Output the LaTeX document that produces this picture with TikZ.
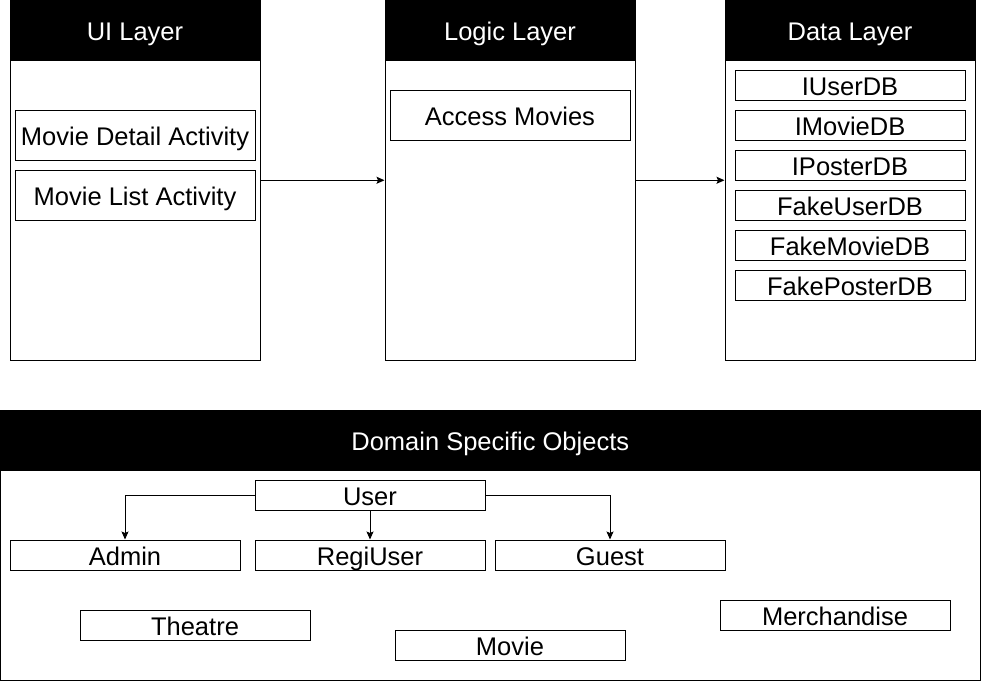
\documentclass[tikz,border=0pt]{standalone}
\usepackage{fontspec}
\setmainfont{Liberation Sans}
\usetikzlibrary{arrows.meta}
\begin{document}
\begin{tikzpicture}[x=1pt,y=-1pt,
  txt/.style={font=\fontsize{25.5}{30}\selectfont, text height=20pt, text depth=0pt},
  layer/.style={draw=black, line width=1pt, fill=white, inner sep=0pt},
  head/.style={draw=black, line width=1pt, fill=black, text=white, txt, inner sep=0pt},
  item/.style={draw=black, line width=1pt, fill=white, txt, inner sep=0pt},
  arr/.style={draw=black, line width=1pt, -{Stealth[length=8pt,width=7pt,inset=1.5pt]}}
]
\useasboundingbox (0,0) rectangle (981,681);
% layers
\node[layer, minimum width=250pt, minimum height=359.5pt] (ui) at (135,180.25) {};
\node[head, minimum width=250pt, minimum height=59.5pt, anchor=north] (uih) at (ui.north) {UI Layer};
\node[layer, minimum width=250pt, minimum height=359.5pt] (logic) at (510,180.25) {};
\node[head, minimum width=250pt, minimum height=59.5pt, anchor=north] (logich) at (logic.north) {Logic Layer};
\node[layer, minimum width=250pt, minimum height=359.5pt] (data) at (850,180.25) {};
\node[head, minimum width=250pt, minimum height=59.5pt, anchor=north] (datah) at (data.north) {Data Layer};
% UI items
\node[item, minimum width=240pt, minimum height=50pt] (mda) at (135,135) {Movie Detail Activity};
\node[item, minimum width=240pt, minimum height=50pt] (mla) at (135,195) {Movie List Activity};
% logic items
\node[item, minimum width=240pt, minimum height=50pt] (am) at (510,115) {Access Movies};
% data items
\node[item, minimum width=230pt, minimum height=30pt] (iu) at (850,85) {IUserDB};
\node[item, minimum width=230pt, minimum height=30pt] (im) at (850,125) {IMovieDB};
\node[item, minimum width=230pt, minimum height=30pt] (ip) at (850,165) {IPosterDB};
\node[item, minimum width=230pt, minimum height=30pt] (fu) at (850,205) {FakeUserDB};
\node[item, minimum width=230pt, minimum height=30pt] (fm) at (850,245) {FakeMovieDB};
\node[item, minimum width=230pt, minimum height=30pt] (fp) at (850,285) {FakePosterDB};
% arrows between layers
\draw[arr] (ui.east) -- (logic.west);
\draw[arr] (logic.east) -- (data.west);
% domain
\node[layer, minimum width=979.5pt, minimum height=270pt] (dom) at (490.25,545) {};
\node[head, minimum width=979.5pt, minimum height=60pt, anchor=north] (domh) at (dom.north) {Domain Specific Objects};
\node[item, minimum width=230pt, minimum height=30pt] (user) at (370,495) {User};
\node[item, minimum width=230pt, minimum height=30pt] (admin) at (125,555) {Admin};
\node[item, minimum width=230pt, minimum height=30pt] (regi) at (370,555) {RegiUser};
\node[item, minimum width=230pt, minimum height=30pt] (guest) at (610,555) {Guest};
\node[item, minimum width=230pt, minimum height=30pt] (theatre) at (195,625) {Theatre};
\node[item, minimum width=230pt, minimum height=30pt] (movie) at (510,645) {Movie};
\node[item, minimum width=230pt, minimum height=30pt] (merch) at (835,615) {Merchandise};
\draw[arr] (user.west) -| (admin.north);
\draw[arr] (user.south) -- (regi.north);
\draw[arr] (user.east) -| (guest.north);
\end{tikzpicture}
\end{document}
